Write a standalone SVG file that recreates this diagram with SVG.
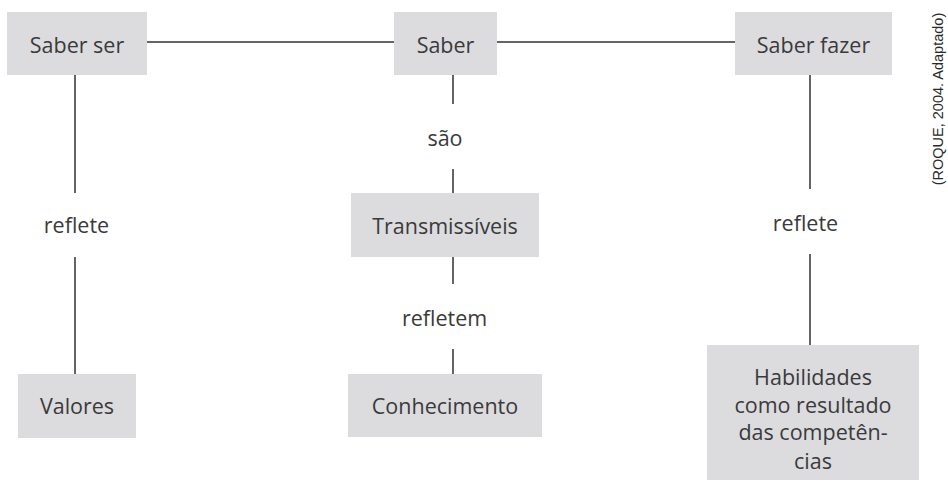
<svg xmlns="http://www.w3.org/2000/svg" width="948" height="490" viewBox="0 0 948 490">
<style>
.box{fill:#dcdcde}
.t{font-family:"Open Sans","Liberation Sans",sans-serif;font-size:21.5px;fill:#3a3a3c;text-anchor:middle}
.c{stroke:#333;stroke-width:1.5;fill:none}
.cite{font-family:"Liberation Sans",Arial,sans-serif;font-size:14.5px;fill:#2a2a2a;text-anchor:middle}
</style>
<rect width="948" height="490" fill="#fff"/>
<g id="connectors">
<path class="c" d="M147 42H394M497 42H735"/>
<path class="c" d="M75 75V193M75 257V374"/>
<path class="c" d="M453 75V104M453 169V193M453 257V284M453 349V374"/>
<path class="c" d="M810 75V189M810 254V345"/>
<text class="t" x="76.5" y="233">reflete</text>
<text class="t" x="445" y="146">são</text>
<text class="t" x="444.5" y="326">refletem</text>
<text class="t" x="805.5" y="231">reflete</text>
</g>
<g id="saber-ser"><rect class="box" x="7" y="12" width="140" height="63"/><text class="t" x="77" y="53">Saber ser</text></g>
<g id="saber"><rect class="box" x="394" y="12" width="103" height="63"/><text class="t" x="445.5" y="53">Saber</text></g>
<g id="saber-fazer"><rect class="box" x="735" y="12" width="157" height="63"/><text class="t" x="813.5" y="53">Saber fazer</text></g>
<g id="transmissiveis"><rect class="box" x="351" y="193" width="188" height="64"/><text class="t" x="445" y="234">Transmissíveis</text></g>
<g id="valores"><rect class="box" x="18" y="374" width="118" height="64"/><text class="t" x="77" y="414">Valores</text></g>
<g id="conhecimento"><rect class="box" x="348" y="374" width="194" height="63"/><text class="t" x="445" y="414">Conhecimento</text></g>
<g id="habilidades"><rect class="box" x="707" y="345" width="212" height="135"/>
<text class="t" x="813" y="385">Habilidades</text>
<text class="t" x="813" y="413">como resultado</text>
<text class="t" x="813" y="440">das competên-</text>
<text class="t" x="813" y="469">cias</text></g>
<text class="cite" transform="translate(942.5 99) rotate(-90)">(ROQUE, 2004. Adaptado)</text>
</svg>
